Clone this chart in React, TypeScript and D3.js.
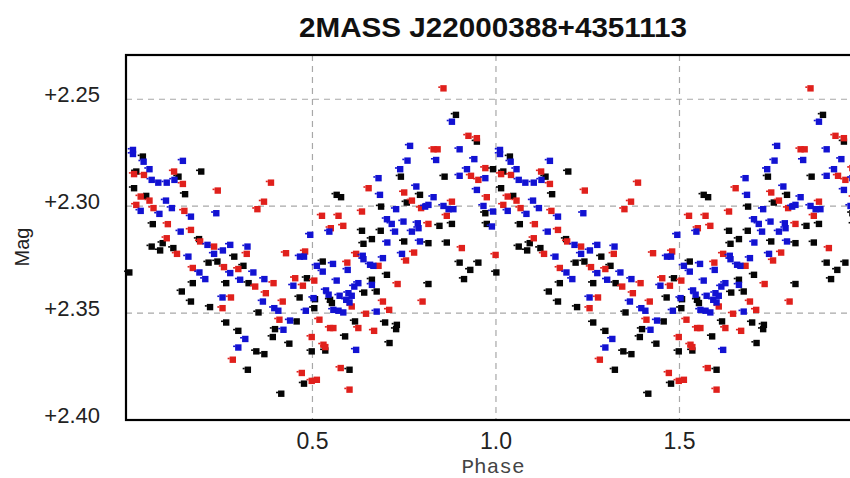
import React from "react";
import * as d3 from "d3";

const title = "2MASS J22000388+4351113";
const xLabel = "Phase";
const yLabel = "Mag";
const xTicks = [0.5, 1.0, 1.5];
const yTicks = [2.25, 2.3, 2.35, 2.4];

// [phase, mag] for one cycle; the chart repeats it at phase + 1
const blackPts: [number, number][] = [
  [0.001, 2.331], [0.038, 2.2768], [0.02, 2.2838], [0.197, 2.2838], [0.135, 2.2862], [0.014, 2.2916],
  [0.153, 2.2944], [0.047, 2.2952], [0.065, 2.3084], [0.092, 2.3173], [0.062, 2.3189], [0.085, 2.3207],
  [0.121, 2.3196], [0.191, 2.3154], [0.287, 2.3236], [0.217, 2.3264], [0.241, 2.3259], [0.312, 2.3279],
  [0.265, 2.336], [0.326, 2.336], [0.485, 2.3337], [0.174, 2.336], [0.144, 2.3399], [0.169, 2.3446],
  [0.221, 2.3472], [0.465, 2.3427], [0.353, 2.3497], [0.505, 2.3477], [0.265, 2.3544], [0.298, 2.3583],
  [0.457, 2.3539], [0.398, 2.3575], [0.392, 2.3612], [0.437, 2.3643], [0.347, 2.3679], [0.369, 2.3692],
  [0.324, 2.3765], [0.498, 2.3679], [0.477, 2.383], [0.415, 2.3877], [0.891, 2.2573], [0.948, 2.2698],
  [0.741, 2.2862], [0.86, 2.2862], [0.992, 2.2827], [0.566, 2.2947], [0.578, 2.2958], [0.793, 2.2947],
  [0.687, 2.3002], [0.757, 2.2983], [0.971, 2.3033], [0.635, 2.3115], [0.686, 2.3115], [0.88, 2.3083],
  [0.846, 2.3092], [0.975, 2.3083], [0.662, 2.3154], [0.639, 2.3176], [0.75, 2.3165], [0.816, 2.3173],
  [0.866, 2.317], [0.901, 2.3264], [0.952, 2.3264], [0.93, 2.3298], [0.913, 2.3341], [0.528, 2.3259],
  [0.703, 2.3321], [0.816, 2.3364], [0.662, 2.3344], [0.675, 2.3399], [0.641, 2.3404], [0.548, 2.3438],
  [0.553, 2.3453], [0.507, 2.3435], [0.616, 2.3539], [0.698, 2.3544], [0.73, 2.3555], [0.728, 2.3575],
  [0.589, 2.3609], [0.71, 2.364], [0.535, 2.3675], [0.601, 2.3765],
];

const redPts: [number, number][] = [
  [0.014, 2.285], [0.041, 2.2854], [0.123, 2.2838], [0.147, 2.2896], [0.387, 2.289], [0.242, 2.2927],
  [0.032, 2.2955], [0.056, 2.2974], [0.02, 2.2994], [0.067, 2.3009], [0.151, 2.3022], [0.368, 2.2979],
  [0.35, 2.3014], [0.106, 2.3084], [0.169, 2.3111], [0.103, 2.315], [0.131, 2.3223], [0.194, 2.3165],
  [0.232, 2.3189], [0.321, 2.3223], [0.428, 2.322], [0.48, 2.3212], [0.174, 2.3289], [0.259, 2.3285],
  [0.298, 2.3294], [0.344, 2.3376], [0.394, 2.336], [0.453, 2.3337], [0.474, 2.3372], [0.278, 2.3427],
  [0.255, 2.3477], [0.373, 2.3407], [0.419, 2.3446], [0.41, 2.3531], [0.498, 2.3612], [0.519, 2.3531],
  [0.283, 2.3718], [0.471, 2.378], [0.498, 2.3817], [0.512, 2.3812], [0.857, 2.2449], [0.925, 2.2671],
  [0.948, 2.2682], [0.83, 2.2734], [0.841, 2.2734], [0.932, 2.2858], [0.952, 2.2877], [0.971, 2.2822],
  [0.653, 2.2916], [0.75, 2.2936], [0.975, 2.2958], [0.771, 2.2974], [0.796, 2.3009], [0.88, 2.2979],
  [0.866, 2.3045], [0.635, 2.3025], [0.526, 2.3045], [0.571, 2.3045], [0.584, 2.3092], [0.55, 2.3103],
  [0.816, 2.3083], [0.907, 2.3196], [0.999, 2.3228], [0.619, 2.3223], [0.68, 2.3279], [0.755, 2.3254],
  [0.777, 2.3217], [0.595, 2.3264], [0.505, 2.3348], [0.732, 2.3364], [0.692, 2.3446], [0.8, 2.3446],
  [0.607, 2.3469], [0.709, 2.3485], [0.646, 2.3503], [0.548, 2.357], [0.557, 2.357], [0.625, 2.357],
  [0.668, 2.3583], [0.53, 2.3648], [0.535, 2.3659], [0.577, 2.3757], [0.601, 2.3858],
];

const bluePts: [number, number][] = [
  [0.011, 2.2737], [0.011, 2.2756], [0.04, 2.2792], [0.147, 2.2788], [0.056, 2.2827], [0.062, 2.2877],
  [0.08, 2.289], [0.103, 2.289], [0.124, 2.2877], [0.032, 2.3022], [0.101, 2.2974], [0.117, 2.3009],
  [0.083, 2.3036], [0.169, 2.3049], [0.238, 2.3033], [0.141, 2.3119], [0.214, 2.3181], [0.232, 2.3223],
  [0.256, 2.3207], [0.276, 2.3181], [0.323, 2.3189], [0.162, 2.3236], [0.494, 2.3134], [0.466, 2.3236],
  [0.477, 2.3236], [0.192, 2.331], [0.208, 2.3341], [0.276, 2.3313], [0.339, 2.331], [0.303, 2.3344],
  [0.369, 2.3341], [0.448, 2.3372], [0.512, 2.3279], [0.255, 2.3427], [0.503, 2.343], [0.365, 2.3446],
  [0.396, 2.3477], [0.407, 2.3489], [0.482, 2.3489], [0.317, 2.3621], [0.298, 2.3661], [0.439, 2.3535],
  [0.421, 2.3578], [0.88, 2.2605], [0.766, 2.2718], [0.901, 2.2734], [0.837, 2.2784], [0.759, 2.2787],
  [0.941, 2.278], [0.739, 2.2827], [0.921, 2.2827], [0.901, 2.2858], [0.971, 2.2869], [0.68, 2.2869],
  [0.684, 2.2947], [0.783, 2.2908], [0.83, 2.2958], [0.948, 2.2924], [0.728, 2.3014], [0.807, 2.3002],
  [0.816, 2.2994], [0.857, 2.2999], [0.871, 2.3014], [0.884, 2.3014], [0.966, 2.2999], [0.992, 2.3025],
  [0.546, 2.3119], [0.703, 2.3061], [0.716, 2.3083], [0.748, 2.3072], [0.725, 2.3119], [0.771, 2.3119],
  [0.787, 2.308], [0.789, 2.3103], [0.989, 2.3095], [0.704, 2.317], [0.793, 2.3165], [0.637, 2.3232],
  [0.639, 2.3248], [0.692, 2.3243], [0.657, 2.3274], [0.666, 2.3279], [0.744, 2.3223], [0.596, 2.3298],
  [0.528, 2.3306], [0.556, 2.327], [0.566, 2.3348], [0.625, 2.336], [0.614, 2.3376], [0.662, 2.3368],
  [0.537, 2.3394], [0.544, 2.3414], [0.574, 2.3419], [0.598, 2.3407], [0.607, 2.3419], [0.592, 2.3438],
  [0.601, 2.345], [0.557, 2.3485], [0.571, 2.3489], [0.584, 2.3497], [0.675, 2.3493], [0.619, 2.3672],
];

const series = [
  { name: "black", color: "#050505", pts: blackPts },
  { name: "red", color: "#e0201c", pts: redPts },
  { name: "blue", color: "#1212d2", pts: bluePts },
];

const W = 850;
const H = 478;

export default function App() {
  const x = d3.scaleLinear().domain([-0.008, 2.0]).range([126, 863]);
  const y = d3.scaleLinear().domain([2.2293, 2.4]).range([55, 420]);
  const [x0, x1] = x.range();
  const [y0, y1] = y.range();

  const marks: { cx: number; cy: number; color: string; key: string }[] = [];
  series.forEach((s) => {
    s.pts.forEach(([p, m], i) => {
      [0, 1].forEach((k) => {
        const ph = p + k;
        if (ph >= x.domain()[0] && ph <= x.domain()[1]) {
          marks.push({ cx: x(ph), cy: y(m), color: s.color, key: `${s.name}-${i}-${k}` });
        }
      });
    });
  });

  return (
    <svg
      width={W}
      height={H}
      style={{ position: "absolute", left: 0, top: 0, background: "#fff", display: "block" }}
    >
      <rect x={0} y={0} width={W} height={H} fill="#fff" />
      <text
        x={493}
        y={36.5}
        textAnchor="middle"
        fontFamily="Liberation Sans, Arial, sans-serif"
        fontWeight="bold"
        fontSize={28}
        textLength={388}
        lengthAdjust="spacingAndGlyphs"
        fill="#111"
      >
        {title}
      </text>

      {/* gridlines */}
      {yTicks.filter((t) => t < 2.4).map((t) => (
        <line key={`gy${t}`} x1={x0} x2={x1} y1={y(t)} y2={y(t)} stroke="#a8a8a8" strokeWidth={1.2} strokeDasharray="6,5" />
      ))}
      {xTicks.map((t) => (
        <line key={`gx${t}`} x1={x(t)} x2={x(t)} y1={y0} y2={y1} stroke="#a8a8a8" strokeWidth={1.2} strokeDasharray="6,5" />
      ))}

      {/* frame */}
      <rect x={x0} y={y0} width={x1 - x0} height={y1 - y0} fill="none" stroke="#000" strokeWidth={2.2} />

      {/* points */}
      {marks.map((d) => (
        <g key={d.key} fill={d.color}>
          <rect x={d.cx - 3.2} y={d.cy - 3.2} width={6.4} height={6.4} />
          <rect x={d.cx - 5.2} y={d.cy - 2} width={2} height={1.6} />
        </g>
      ))}

      {/* y tick labels */}
      {yTicks.map((t) => (
        <text
          key={`ty${t}`}
          x={100}
          y={y(t) - 3}
          textAnchor="end"
          dominantBaseline="middle"
          fontFamily="Liberation Sans, Arial, sans-serif"
          fontSize={22}
          fill="#222"
        >
          {"+" + d3.format(".2f")(t)}
        </text>
      ))}

      {/* x tick labels */}
      {xTicks.map((t) => (
        <text
          key={`tx${t}`}
          x={x(t)}
          y={449}
          textAnchor="middle"
          fontFamily="Liberation Sans, Arial, sans-serif"
          fontSize={23}
          fill="#222"
        >
          {d3.format(".1f")(t)}
        </text>
      ))}

      <text
        x={493}
        y={473}
        textAnchor="middle"
        fontFamily="Liberation Mono, Courier New, monospace"
        fontSize={21}
        fill="#444"
      >
        {xLabel}
      </text>
      <text
        transform={`translate(29,247) rotate(-90)`}
        textAnchor="middle"
        fontFamily="Liberation Sans, Arial, sans-serif"
        fontSize={20}
        fill="#222"
      >
        {yLabel}
      </text>
    </svg>
  );
}
